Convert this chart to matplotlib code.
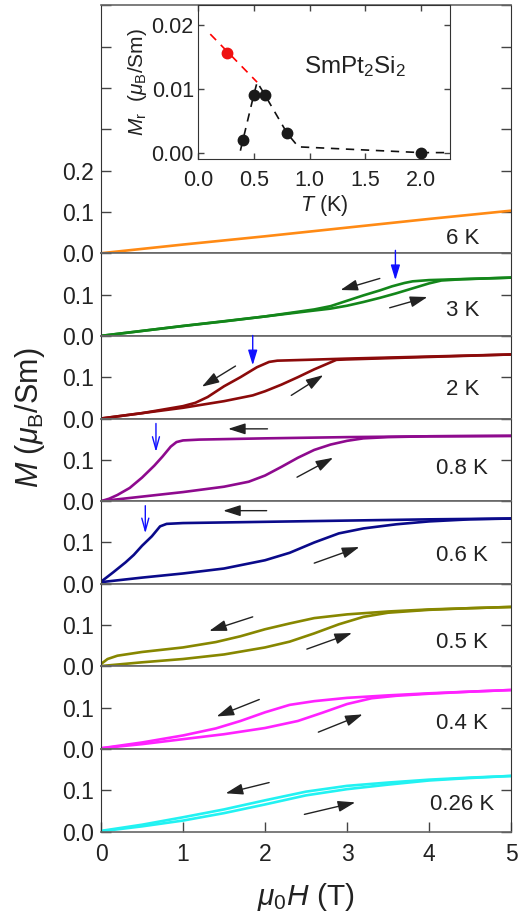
import numpy as np
import matplotlib
matplotlib.use("Agg")
import matplotlib.pyplot as plt

plt.rcParams.update({"font.family": ["Liberation Sans", "DejaVu Sans"], "mathtext.fontset": "custom",
                     "mathtext.rm": "Liberation Sans", "mathtext.it": "Liberation Sans:italic",
                     "mathtext.bf": "Liberation Sans:bold"})

# ---- data (field in T, moment in muB/Sm) ----
temps = ["6 K", "3 K", "2 K", "0.8 K", "0.6 K", "0.5 K", "0.4 K", "0.26 K"]
colors = ["#ff8a14", "#13861a", "#8b0a0a", "#8e0a8e", "#0a0a8a", "#878700", "#ff22ff", "#22f2f2"]

H_6K = [0, 1, 2, 3, 4, 5]
M_6K = [0, 0.021, 0.041, 0.062, 0.083, 0.103]

H_3K_up = [0, 0.5, 1.0, 1.5, 2.0, 2.5, 2.8, 3.0, 3.2, 3.4, 3.6, 3.8, 4.0, 4.15, 4.4, 4.7, 5.0]
M_3K_up = [0, 0.012, 0.024, 0.035, 0.047, 0.059, 0.066, 0.073, 0.082, 0.092, 0.103, 0.115, 0.127, 0.134, 0.137, 0.139, 0.141]
H_3K_dn = [5.0, 4.5, 4.0, 3.8, 3.7, 3.55, 3.4, 3.2, 3.0, 2.8, 2.6, 2.0, 1.0, 0]
M_3K_dn = [0.141, 0.138, 0.135, 0.132, 0.128, 0.120, 0.110, 0.098, 0.085, 0.072, 0.064, 0.047, 0.024, 0]

H_2K_up = [0, 0.5, 1.0, 1.5, 1.85, 2.0, 2.2, 2.4, 2.6, 2.8, 2.87, 3.0, 3.5, 4.0, 4.5, 5.0]
M_2K_up = [0, 0.013, 0.026, 0.042, 0.056, 0.066, 0.082, 0.100, 0.119, 0.136, 0.142, 0.143, 0.146, 0.149, 0.152, 0.155]
H_2K_dn = [5.0, 4.0, 3.0, 2.5, 2.15, 2.05, 1.9, 1.7, 1.5, 1.3, 1.15, 1.0, 0.5, 0]
M_2K_dn = [0.155, 0.150, 0.145, 0.142, 0.140, 0.137, 0.124, 0.100, 0.078, 0.052, 0.038, 0.030, 0.013, 0]

H_08K_up = [0, 0.5, 1.0, 1.5, 1.8, 2.0, 2.2, 2.4, 2.6, 2.8, 3.0, 3.2, 3.5, 4.0, 5.0]
M_08K_up = [0, 0.011, 0.022, 0.035, 0.047, 0.062, 0.083, 0.105, 0.124, 0.137, 0.146, 0.152, 0.155, 0.157, 0.158]
H_08K_dn = [5.0, 4.0, 3.0, 2.0, 1.2, 1.0, 0.92, 0.85, 0.75, 0.65, 0.5, 0.35, 0.2, 0.1, 0]
M_08K_dn = [0.158, 0.157, 0.155, 0.152, 0.149, 0.147, 0.143, 0.132, 0.108, 0.086, 0.057, 0.032, 0.015, 0.006, 0]

H_06K_up = [0, 0.5, 1.0, 1.5, 2.0, 2.3, 2.6, 2.9, 3.2, 3.6, 4.0, 4.5, 5.0]
M_06K_up = [0.004, 0.015, 0.025, 0.037, 0.057, 0.075, 0.100, 0.122, 0.134, 0.144, 0.151, 0.156, 0.158]
H_06K_dn = [5.0, 4.0, 3.0, 2.0, 1.0, 0.8, 0.72, 0.62, 0.5, 0.4, 0.3, 0.15, 0]
M_06K_dn = [0.158, 0.156, 0.153, 0.150, 0.147, 0.145, 0.139, 0.115, 0.092, 0.070, 0.052, 0.028, 0.005]

H_05K_up = [0, 0.5, 1.0, 1.5, 2.0, 2.3, 2.6, 2.9, 3.2, 3.5, 4.0, 4.5, 5.0]
M_05K_up = [0.001, 0.010, 0.018, 0.029, 0.046, 0.060, 0.080, 0.102, 0.120, 0.130, 0.137, 0.141, 0.144]
H_05K_dn = [5.0, 4.0, 3.5, 3.0, 2.6, 2.3, 2.0, 1.7, 1.4, 1.0, 0.5, 0.2, 0.08, 0]
M_05K_dn = [0.144, 0.138, 0.133, 0.126, 0.117, 0.104, 0.090, 0.073, 0.059, 0.046, 0.035, 0.026, 0.018, 0.006]

H_04K_up = [0, 0.5, 1.0, 1.5, 2.0, 2.4, 2.7, 3.0, 3.3, 3.6, 4.0, 4.5, 5.0]
M_04K_up = [0.002, 0.012, 0.024, 0.036, 0.051, 0.068, 0.088, 0.109, 0.123, 0.129, 0.134, 0.139, 0.143]
H_04K_dn = [5.0, 4.0, 3.5, 3.0, 2.6, 2.3, 2.0, 1.7, 1.4, 1.0, 0.5, 0]
M_04K_dn = [0.143, 0.135, 0.130, 0.124, 0.116, 0.107, 0.089, 0.068, 0.050, 0.033, 0.016, 0.002]

H_026K_up = [0, 0.5, 1.0, 1.5, 2.0, 2.5, 3.0, 3.5, 4.0, 4.5, 5.0]
M_026K_up = [0.001, 0.013, 0.027, 0.045, 0.066, 0.088, 0.103, 0.114, 0.124, 0.130, 0.135]
H_026K_dn = [5.0, 4.5, 4.0, 3.5, 3.0, 2.5, 2.0, 1.5, 1.0, 0.5, 0]
M_026K_dn = [0.135, 0.131, 0.126, 0.119, 0.111, 0.097, 0.076, 0.054, 0.035, 0.017, 0.002]

# inset: remanent moment vs T
T_red, Mr_red = [0.26], [0.0156]
T_blk = [0.4, 0.5, 0.6, 0.8, 2.0]
Mr_blk = [0.002, 0.009, 0.009, 0.003, 0.0]
T_red_guide = [0.11, 0.53]
Mr_red_guide = [0.0185, 0.011]
T_blk_guide = [0.38, 0.5, 0.53, 0.6, 0.8, 0.9, 2.0, 2.25]
Mr_blk_guide = [0.0003, 0.009, 0.011, 0.009, 0.003, 0.0009, 0.0, 0.0]

curves = [[(H_6K, M_6K)],
          [(H_3K_up, M_3K_up), (H_3K_dn, M_3K_dn)],
          [(H_2K_up, M_2K_up), (H_2K_dn, M_2K_dn)],
          [(H_08K_up, M_08K_up), (H_08K_dn, M_08K_dn)],
          [(H_06K_up, M_06K_up), (H_06K_dn, M_06K_dn)],
          [(H_05K_up, M_05K_up), (H_05K_dn, M_05K_dn)],
          [(H_04K_up, M_04K_up), (H_04K_dn, M_04K_dn)],
          [(H_026K_up, M_026K_up), (H_026K_dn, M_026K_dn)]]

# layout: label (x, y), black arrows ((x0,y0)->(x1,y1)), blue arrow (x, y0, y1, filled)
lab_pos = [(4.62, 0.036), (4.62, 0.062), (4.62, 0.071), (4.72, 0.079), (4.72, 0.068), (4.72, 0.058), (4.72, 0.062), (4.8, 0.065)]
blk_arrows = [[],
              [((3.40, 0.139), (2.92, 0.111)), ((3.52, 0.068), (3.98, 0.094))],
              [((1.64, 0.127), (1.23, 0.077)), ((2.32, 0.056), (2.71, 0.105))],
              [((2.03, 0.175), (1.55, 0.175)), ((2.39, 0.058), (2.83, 0.105))],
              [((2.02, 0.177), (1.49, 0.177)), ((2.60, 0.050), (3.15, 0.089))],
              [((1.85, 0.120), (1.32, 0.086)), ((2.51, 0.042), (3.06, 0.081))],
              [((1.93, 0.120), (1.41, 0.079)), ((2.65, 0.041), (3.19, 0.084))],
              [((2.05, 0.119), (1.52, 0.093)), ((2.48, 0.042), (3.10, 0.071))]]
blue_arrows = {1: (3.59, 0.207, 0.135, True), 2: (1.85, 0.201, 0.129, True),
               3: (0.67, 0.188, 0.119, False), 4: (0.54, 0.189, 0.122, False)}

fig = plt.figure(figsize=(5.3, 9.16), dpi=100)
gs = fig.add_gridspec(8, 1, height_ratios=[3] + [1] * 7, hspace=0,
                      left=0.1906, right=0.9642, top=0.9942, bottom=0.0920)
FS = 16.5
for i in range(8):
    ax = fig.add_subplot(gs[i])
    for H, M in curves[i]:
        ax.plot(H, M, color=colors[i], lw=1.9, solid_joinstyle="round")
    ax.set_xlim(0, 5)
    if i == 0:
        ax.set_ylim(0, 0.6)
        ax.set_yticks(np.arange(0, 0.61, 0.1))
        ax.set_yticklabels(["0.0", "0.1", "0.2", "", "", "", ""])
    else:
        ax.set_ylim(0, 0.2)
        ax.set_yticks([0, 0.1, 0.2])
        ax.set_yticklabels(["0.0", "0.1", ""])
    ax.tick_params(axis="y", direction="in", left=True, right=True, length=7, width=1,
                   labelsize=FS, pad=5, color="#444", labelcolor="#222")
    if i == 7:
        ax.set_xticks(range(6))
        ax.tick_params(axis="x", direction="in", length=7, width=1, labelsize=FS, pad=8,
                       color="#444", labelcolor="#222")
    else:
        ax.set_xticks([])
    for s in ["left", "right"]:
        ax.spines[s].set_color("#333")
    for s in ["top", "bottom"]:
        ax.spines[s].set_color("#666")
        ax.spines[s].set_linewidth(1.2)
    ax.text(lab_pos[i][0], lab_pos[i][1], temps[i], ha="right", va="center", fontsize=16, color="#222")
    for (p0, p1) in blk_arrows[i]:
        ax.annotate("", xy=p1, xytext=p0,
                    arrowprops=dict(arrowstyle="-|>,head_length=0.75,head_width=0.24", color="#222",
                                    lw=1.0, shrinkA=0, shrinkB=0, mutation_scale=14))
    if i in blue_arrows:
        x, y0, y1, filled = blue_arrows[i]
        style = "-|>,head_length=0.65,head_width=0.2" if filled else "->,head_length=0.65,head_width=0.18"
        ax.annotate("", xy=(x, y1), xytext=(x, y0), annotation_clip=False,
                    arrowprops=dict(arrowstyle=style, color="#1010ff", lw=1.0,
                                    shrinkA=0, shrinkB=0, mutation_scale=14))

fig.text(0.057, 0.544, r"$M$ ($\mu_\mathrm{B}$/Sm)", rotation=90, ha="center", va="center",
         fontsize=22, color="#222")
fig.text(0.577, 0.021, r"$\mu_0H$ (T)", ha="center", va="center", fontsize=21.5, color="#222")

# inset
ins = fig.add_axes([0.3736, 0.8264, 0.4755, 0.1678])
ins.set_facecolor("white")
ins.plot(T_red_guide, Mr_red_guide, color="red", lw=1.2, ls=(0, (5, 4)))
ins.plot(T_blk_guide, Mr_blk_guide, color="#111", lw=1.2, ls=(0, (5, 4)))
ins.plot(T_blk, Mr_blk, "o", color="#1a1a1a", ms=7.5, zorder=3)
ins.plot(T_red, Mr_red, "o", color="#ee1111", ms=7.5, zorder=3)
ins.set_xlim(0, 2.26)
ins.set_ylim(-0.001, 0.023)
ins.set_xticks([0, 0.5, 1.0, 1.5, 2.0])
ins.set_yticks([0, 0.01, 0.02])
ins.set_yticklabels(["0.00", "0.01", "0.02"])
ins.tick_params(direction="in", top=True, right=True, length=4.5, width=1, labelsize=15.5,
                color="#444", labelcolor="#222")
ins.tick_params(axis="x", pad=8)
ins.tick_params(axis="y", pad=3)
for s in ins.spines.values():
    s.set_color("#333")
ins.set_xlabel(r"$T$ (K)", fontsize=15.5, labelpad=1, color="#222")
ins.set_ylabel(r"$M_\mathrm{r}$  ($\mu_\mathrm{B}$/Sm)", fontsize=15, labelpad=2, color="#222")
ins.text(1.41, 0.0134, r"SmPt$_2$Si$_2$", ha="center", va="center", fontsize=17.5, color="#222")

fig.savefig("out.png", dpi=100)
